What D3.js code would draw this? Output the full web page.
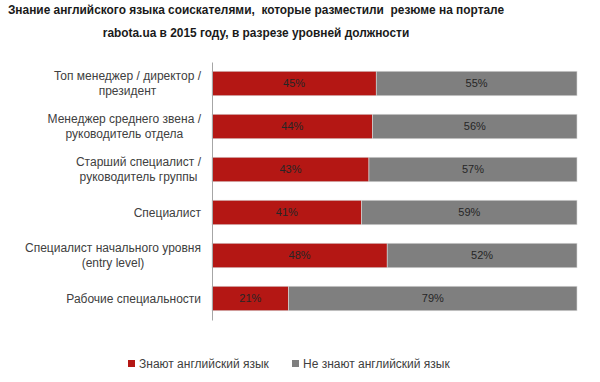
<!DOCTYPE html>
<html><head><meta charset="utf-8">
<script src="https://cdn.jsdelivr.net/npm/d3@7"></script>
<style>body{margin:0;background:#fff}svg{display:block}</style>
</head><body>
<svg id="c" width="600" height="382"></svg>
<script>
const categories = [
  ["Топ менеджер / директор /", "президент"],
  ["Менеджер среднего звена /", "руководитель отдела"],
  ["Старший специалист /", "руководитель группы"],
  ["Специалист"],
  ["Специалист начального уровня", "(entry level)"],
  ["Рабочие специальности"]
];
const know = [45, 44, 43, 41, 48, 21];
const notKnow = [55, 56, 57, 59, 52, 79];
const seriesNames = ["Знают английский язык", "Не знают английский язык"];
const titleLines = ["Знание английского языка соискателями,  которые разместили  резюме на портале",
                    "rabota.ua в 2015 году, в разрезе уровней должности"];
const colors = ["#b41714", "#7f7f7f"];

const svg = d3.select("#c");
const font = "'Liberation Sans', Arial, sans-serif";

svg.append("g").selectAll("text").data(titleLines).join("text")
  .attr("x", 256).attr("y", (d, i) => 14 + i * 23)
  .attr("text-anchor", "middle").attr("font-family", font)
  .attr("font-weight", "bold").attr("font-size", 11.9).attr("fill", "#1a1a1a")
  .attr("xml:space", "preserve")
  .text(d => d);

const x = d3.scaleLinear().domain([0, 100]).range([212, 577]);
const y = d3.scaleBand().domain(d3.range(categories.length)).range([62, 320])
  .paddingInner(0.43).paddingOuter(0.215);

const stacked = categories.map((c, i) => [
  {s: 0, x0: 0, x1: know[i], v: know[i], i},
  {s: 1, x0: know[i], x1: know[i] + notKnow[i], v: notKnow[i], i}
]).flat();

const g = svg.append("g");
g.selectAll("rect").data(stacked).join("rect")
  .attr("x", d => x(d.x0)).attr("width", d => x(d.x1) - x(d.x0))
  .attr("y", d => y(d.i)).attr("height", y.bandwidth())
  .attr("fill", d => colors[d.s])
  .attr("stroke", "#d9d9d9").attr("stroke-width", 0.6);

g.selectAll("text.v").data(stacked).join("text").attr("class", "v")
  .attr("x", d => (x(d.x0) + x(d.x1)) / 2)
  .attr("y", d => y(d.i) + y.bandwidth() / 2)
  .attr("dy", "0.35em").attr("text-anchor", "middle")
  .attr("font-family", font).attr("font-size", 11).attr("fill", "#262626")
  .text(d => d.v + "%");

// axis line
const axis = d3.axisLeft(y).tickSize(0).tickFormat("");
const ag = svg.append("g").attr("transform", "translate(212,0)").call(axis);
ag.select(".domain").attr("stroke", "#a6a6a6").attr("stroke-width", 1);

// category labels: block right-aligned, lines centered within block
const lab = svg.append("g");
const labSize = 12;
categories.forEach((lines, i) => {
  const cy = y(i) + y.bandwidth() / 2;
  const lh = 14.5;
  const t = lab.append("text").attr("font-family", font).attr("font-size", labSize)
    .attr("fill", "#404040").attr("text-anchor", "middle");
  const tmp = lines.map(l => {
    const m = lab.append("text").attr("font-family", font).attr("font-size", labSize).text(l);
    const w = m.node().getComputedTextLength(); m.remove(); return w;
  });
  const bw = d3.max(tmp);
  const cx = 201 - bw / 2;
  lines.forEach((l, k) => {
    t.append("tspan").attr("x", cx)
      .attr("y", cy + (k - (lines.length - 1) / 2) * lh)
      .attr("dy", "0.35em").text(l);
  });
});

// legend
const lg = svg.append("g");
const legX = [128, 292];
seriesNames.forEach((n, i) => {
  lg.append("rect").attr("x", legX[i]).attr("y", 360).attr("width", 7).attr("height", 7)
    .attr("fill", colors[i]);
  lg.append("text").attr("x", legX[i] + 11).attr("y", 363.5).attr("dy", "0.35em")
    .attr("font-family", font).attr("font-size", 12).attr("fill", "#404040").text(n);
});
</script>
</body></html>
